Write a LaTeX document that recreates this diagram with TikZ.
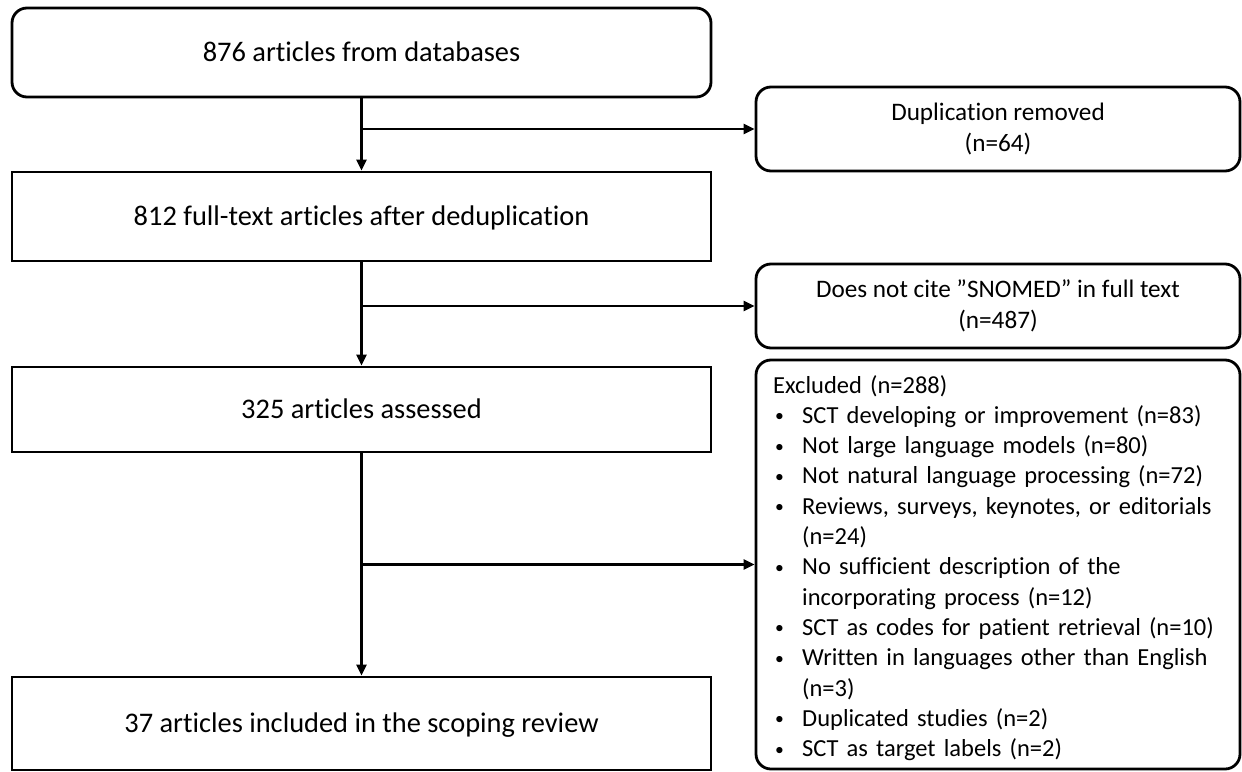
\documentclass[tikz,border=0pt]{standalone}
\usepackage{fontspec}
\setmainfont{Carlito}[Ligatures=NoCommon]
\usetikzlibrary{arrows.meta}
% bullet and continuation indent for the exclusion list
\newcommand\bul{\makebox[29pt][l]{\hspace{2pt}\raisebox{1.5pt}{\scalebox{0.72}{\textbullet}}}}
\newcommand\cont{\hspace*{29pt}}
\begin{document}
\begin{tikzpicture}[x=1pt,y=-1pt,
  boxline/.style={draw=black, line width=2.8pt, inner sep=0pt},
  stagebox/.style={boxline, rectangle, minimum width=699pt,
    font=\fontsize{28.4}{34}\selectfont, text height=20pt, text depth=3pt},
  roundstage/.style={stagebox, rounded corners=15pt},
  sidebox/.style={boxline, rounded corners=15pt, minimum width=484pt,
    align=center, font=\fontsize{25.2}{30.3}\selectfont},
  flowarrow/.style={draw=black, line width=2.4pt,
    -{Triangle[length=11pt,width=10pt]}}
]
\useasboundingbox (0,0) rectangle (1242,771);

% main column
\node[roundstage, minimum height=89pt] (s1) at (361.5,52.5) {876 articles from databases};
\node[stagebox, minimum height=89pt] (s2) at (361.5,216.5) {812 full-text articles after deduplication};
\node[stagebox, minimum height=85pt] (s3) at (361.5,409.5) {325 articles assessed};
\node[stagebox, minimum height=93pt] (s4) at (361.5,723.5) {37 articles included in the scoping review};

% exclusion boxes
\node[sidebox, minimum height=84pt] (dup) at (998,129) {Duplication removed\\(n=64)};
\node[sidebox, minimum height=84pt] (cite) at (998,306) {Does not cite ”SNOMED” in full text\\(n=487)};
\node[sidebox, minimum height=409pt] (excl) at (998,564.5) {};
\node[anchor=base west, inner sep=0pt, text width=462pt, align=left,
  font=\fontsize{24.5}{30.3}\selectfont] (excltext) at (773,393) {%
Excluded (n=288)\\
\bul SCT developing or improvement (n=83)\\
\bul Not large language models (n=80)\\
\bul Not natural language processing (n=72)\\
\bul Reviews, surveys, keynotes, or editorials\\
\cont (n=24)\\
\bul No sufficient description of the\\
\cont incorporating process (n=12)\\
\bul SCT as codes for patient retrieval (n=10)\\
\bul Written in languages other than English\\
\cont (n=3)\\
\bul Duplicated studies (n=2)\\
\bul SCT as target labels (n=2)};

% junction points on the main flow
\coordinate (j1) at (s1.south |- dup.west);
\coordinate (j2) at (s2.south |- cite.west);
\coordinate (j3) at (s3.south |- excl.west);

% connectors
\draw[flowarrow] (s1.south) -- (s2.north);
\draw[flowarrow] (s2.south) -- (s3.north);
\draw[flowarrow] (s3.south) -- (s4.north);
\draw[flowarrow] (j1) -- (dup.west);
\draw[flowarrow] (j2) -- (cite.west);
\draw[flowarrow] (j3) -- (excl.west);
\end{tikzpicture}
\end{document}
